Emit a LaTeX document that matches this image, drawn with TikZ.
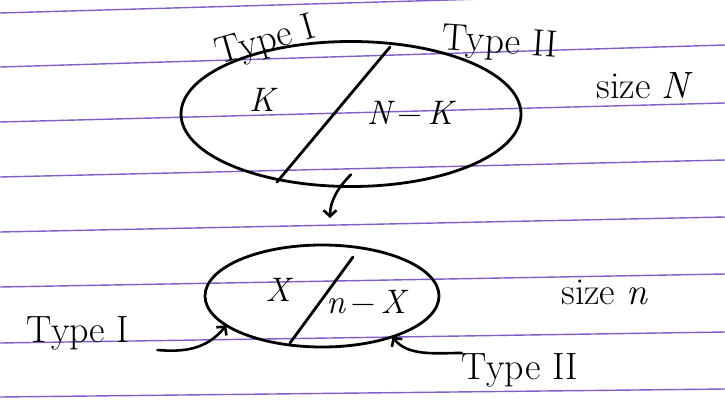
\documentclass[tikz,border=0pt]{standalone}
\usepackage{amsmath,amssymb}
\usepackage{xcolor}
\usepackage{tikz}
\usetikzlibrary{arrows.meta, positioning, shapes.geometric}
\definecolor{ruling}{RGB}{132,94,200}

\begin{document}
\begin{tikzpicture}[x=1pt, y=-1pt,
          set/.style={draw, ellipse, line width=2.8pt, inner sep=0pt, outer sep=0pt},
          lbl/.style={font=\fontsize{38}{42}\selectfont, inner sep=0pt},
          var/.style={font=\fontsize{34}{38}\selectfont\itshape, inner sep=0pt},
          arr/.style={-{Straight Barb[length=6pt,width=13pt]}, line width=2.6pt, line cap=round},
          cut/.style={line width=2.8pt, line cap=round},
          rule/.style={draw=ruling, line width=1.4pt}
        ]
          \fill[white] (0,0) rectangle (725,399);
          \useasboundingbox (0,0) rectangle (725,399);
          \clip (0,0) rectangle (725,399);
          % lined paper
          \foreach \yl/\yr in {13/-8, 67/45, 122/103, 177/160, 232/217, 287/274, 343/332, 397/389}
            \draw[rule] (0,\yl) -- (725,\yr);
          % population and sample
          \node[set, minimum width=340pt, minimum height=145pt] (pop) at (351,114) {};
          \node[set, minimum width=234pt, minimum height=102pt] (sample) at (322,296) {};
          \coordinate (popcutA) at (390,47);
          \coordinate (popcutB) at (277,182);
          \coordinate (smpcutA) at (353,257);
          \coordinate (smpcutB) at (290,343);
          \draw[cut] (popcutA) -- (popcutB);
          \draw[cut] (smpcutA) -- (smpcutB);
          \node[var] (k)  at (262,100) {K};
          \node[var] (nk) at (410,113) {N\,{\upshape −}\,K};
          \node[var] (x)  at (278,290) {X};
          \node[var] (nx) at (366,302) {n\,{\upshape −}\,X};
          \node[lbl, rotate=16] (tyI)  at (266,42) {Type I};
          \node[lbl, rotate=-4] (tyII) at (500,44) {Type II};
          \node[lbl] (sizeN) at (645,86) {size \textit{N}};
          \node[lbl] (sizen) at (605,292) {size \textit{n}};
          \node[lbl] (tyIlow)  at (78,333) {Type I};
          \node[lbl] (tyIIlow) at (520,370) {Type II};
          % arrows
          \draw[arr] ([yshift=12pt]pop.south) .. controls +(-12,12) and +(0,-18) .. ([shift={(8,-27)}]sample.north);
          \draw[arr] ([xshift=28pt]tyIlow.south east) .. controls +(25,2) and +(-20,25) .. (sample.197);
          \draw[arr] (tyIIlow.north west) .. controls +(-25,0) and +(15,20) .. (sample.330);
        \end{tikzpicture}
\end{document}
